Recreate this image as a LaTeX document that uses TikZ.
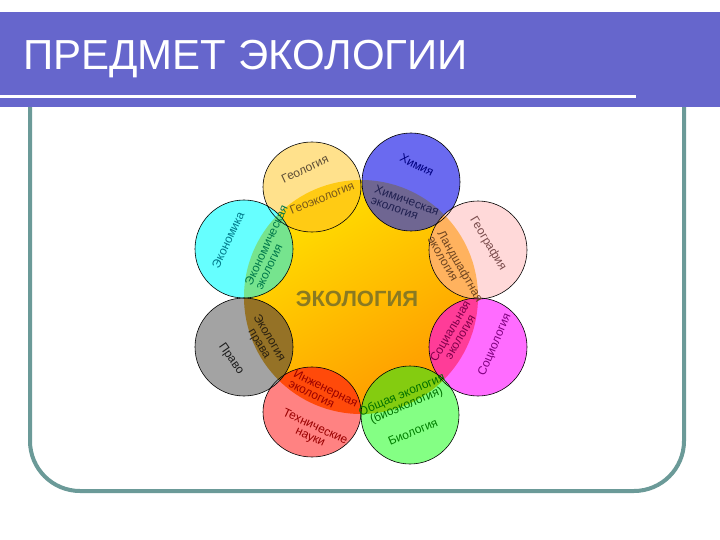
\documentclass[tikz,border=0pt]{standalone}
\usepackage{fontspec}
\setmainfont{Liberation Sans}
\definecolor{barcol}{HTML}{6666CC}
\definecolor{framecol}{HTML}{6B9A98}
\definecolor{cy1}{HTML}{FFE200}
\definecolor{cy2}{HTML}{FF9800}
\definecolor{ecotxt}{HTML}{8A7A22}
\definecolor{geoout}{HTML}{FFE18C}
\definecolor{geoin}{HTML}{FFCB14}
\definecolor{chemout}{HTML}{6A6AF0}
\definecolor{chemin}{HTML}{6F6692}
\definecolor{geogout}{HTML}{FFD9D9}
\definecolor{geogin}{HTML}{FFB25E}
\definecolor{socout}{HTML}{FF6CFF}
\definecolor{socin}{HTML}{FF3C98}
\definecolor{bioout}{HTML}{84FF84}
\definecolor{bioin}{HTML}{84CC10}
\definecolor{techout}{HTML}{FF8282}
\definecolor{techin}{HTML}{FF4A0A}
\definecolor{lawout}{HTML}{A3A3A3}
\definecolor{lawin}{HTML}{957226}
\definecolor{econout}{HTML}{66FFFF}
\definecolor{econin}{HTML}{76E48E}
\definecolor{geotxt}{HTML}{5E4E36}
\definecolor{geoecotxt}{HTML}{7A5A1A}
\definecolor{chemtxt}{HTML}{000080}
\definecolor{chemecotxt}{HTML}{202050}
\definecolor{geogtxt}{HTML}{7A4C4C}
\definecolor{landtxt}{HTML}{6E4420}
\definecolor{soctxt}{HTML}{800080}
\definecolor{socecotxt}{HTML}{80004A}
\definecolor{biotxt}{HTML}{008000}
\definecolor{genecotxt}{HTML}{007000}
\definecolor{techtxt}{HTML}{990000}
\definecolor{engtxt}{HTML}{990000}
\definecolor{lawtxt}{HTML}{1E1E1E}
\definecolor{lawecotxt}{HTML}{2A2010}
\definecolor{econtxt}{HTML}{007B8B}
\definecolor{econecotxt}{HTML}{00784A}
\begin{document}
\begin{tikzpicture}[x=1pt,y=-1pt,
  petalline/.style={draw=black, line width=0.6pt},
  lab/.style={inner sep=0pt, font=\fontsize{12}{11.5}\selectfont},
]
\useasboundingbox (0,0) rectangle (720,540);
\fill[white] (0,0) rectangle (720,540);
% frame
\draw[framecol, line width=4pt, rounded corners=50pt] (30,30) rectangle (684,491);
% title bar
\fill[barcol] (0,12) rectangle (720,107);
\draw[white, line width=3pt] (0,96.5) -- (636,96.5);
\node[anchor=base west, text=white, font=\fontsize{42}{42}\selectfont, inner sep=0pt] (title) at (23,70) {ПРЕДМЕТ ЭКОЛОГИИ};
% centre
\coordinate (c) at (361,297);
\shade[top color=cy1, bottom color=cy2, shading angle=30] (c) circle (117pt);
% petals
\coordinate (pgeo) at (312,187);
\coordinate (pchem) at (411,182);
\coordinate (pgeog) at (478,250);
\coordinate (psoc) at (478,347);
\coordinate (pbio) at (410,415);
\coordinate (ptech) at (312,412);
\coordinate (plaw) at (244,347);
\coordinate (pecon) at (244,249);
\foreach \p/\o/\i/\ry in {pgeo/geoout/geoin/45, pchem/chemout/chemin/49, pgeog/geogout/geogin/49, psoc/socout/socin/49, pbio/bioout/bioin/49, ptech/techout/techin/45, plaw/lawout/lawin/49, pecon/econout/econin/49}{
  \fill[\o] (\p) ellipse (49pt and \ry pt);
  \begin{scope}
    \clip (\p) ellipse (49pt and \ry pt);
    \fill[\i] (c) circle (117pt);
  \end{scope}
}
\foreach \p/\ry in {pgeo/45, pchem/49, pgeog/49, psoc/49, pbio/49, ptech/45, plaw/49, pecon/49}{
  \draw[petalline] (\p) ellipse (49pt and \ry pt);
}
% centre label
\node[inner sep=0pt, text=ecotxt, font=\fontsize{22}{22}\selectfont\bfseries] (eco) at (357,299) {ЭКОЛОГИЯ};
% labels
\node[lab, text=geotxt, rotate=25] (lgeo) at (305,169) {Геология};
\node[lab, text=geoecotxt, rotate=22] (lgeoeco) at (322,198) {Геоэкология};
\node[lab, text=chemtxt, rotate=-27] (lchem) at (417,165) {Химия};
\node[lab, text=chemecotxt, rotate=-20, align=left] (lchemeco) at (405,205.6) {Химическая\\экология};
\node[lab, text=geogtxt, rotate=-59] (lgeog) at (488,244) {География};
\node[lab, text=landtxt, rotate=-60, align=left] (lland) at (455.8,269) {Ландшафтная\\экология};
\node[lab, text=soctxt, rotate=67] (lsoc) at (495,345) {Социология};
\node[lab, text=socecotxt, rotate=60, align=center] (lsoceco) at (455,334) {Социальная\\экология};
\node[lab, text=biotxt, rotate=23] (lbio) at (413,432) {Биология};
\node[lab, text=genecotxt, rotate=23, align=center] (lgen) at (404.3,400.5) {Общая экология\\(биоэкология)};
\node[lab, text=techtxt, rotate=-25, align=center] (ltech) at (312.5,432.4) {Технические\\науки};
\node[lab, text=engtxt, rotate=-26, align=left] (leng) at (323.4,393.4) {Инженерная\\экология};
\node[lab, text=lawtxt, rotate=-55] (llaw) at (231,359) {Право};
\node[lab, text=lawecotxt, rotate=-59, align=center] (llaweco) at (264,341) {Экология\\права};
\node[lab, text=econtxt, rotate=65] (lecon) at (228,240) {Экономика};
\node[lab, text=econecotxt, rotate=65, align=left] (leconeco) at (271.4,247.5) {Экономическая\\экология};
\end{tikzpicture}
\end{document}
